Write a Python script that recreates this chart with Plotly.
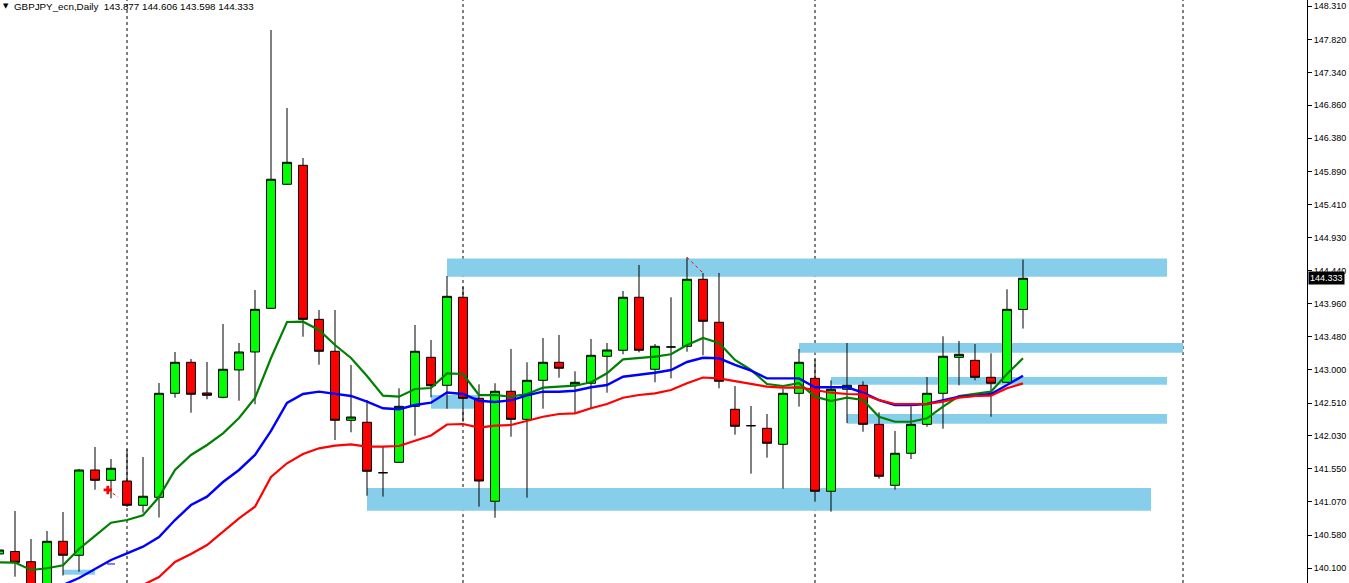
import plotly.graph_objects as go

# ---------------- data ----------------
bar_index = list(range(-1, 64))
opens = [140.305, 140.341, 140.192, 139.706, 140.490, 140.286, 141.532, 141.381, 141.371, 141.016,
         141.133, 142.652, 143.105, 142.657, 142.594, 142.993, 143.256, 143.894, 145.706, 145.983,
         143.733, 143.266, 142.258, 142.229, 141.492, 141.644, 142.462, 143.178, 142.769, 144.055,
         142.579, 141.075, 142.682, 142.272, 142.842, 143.105, 142.769, 142.799, 143.193, 143.281,
         144.055, 143.003, 143.329, 143.339, 144.318, 143.690, 142.419, 142.179, 142.141, 141.907,
         142.652, 142.871, 141.221, 142.711, 142.769, 142.199, 141.308, 141.776, 142.199, 142.652,
         143.178, 143.134, 142.886, 142.813, 143.877]
highs = [140.378, 140.933, 140.524, 140.641, 140.918, 141.547, 141.868, 141.692, 141.834, 141.722,
         142.803, 143.256, 143.153, 143.110, 143.665, 143.387, 144.161, 147.960, 146.820, 146.090,
         143.869, 143.869, 143.066, 142.554, 141.868, 142.725, 143.650, 143.431, 144.366, 144.205,
         142.784, 142.799, 143.300, 143.105, 143.460, 143.504, 142.974, 143.446, 143.387, 144.147,
         144.527, 143.373, 144.055, 144.639, 144.410, 144.410, 142.759, 142.467, 142.350, 142.715,
         143.300, 143.149, 142.842, 143.387, 142.828, 142.375, 142.102, 142.462, 142.890, 143.485,
         143.416, 143.373, 143.237, 144.172, 144.606]
lows = [140.275, 139.973, 139.633, 139.633, 139.991, 140.046, 141.244, 141.118, 140.991, 140.908,
        140.838, 142.588, 142.369, 142.565, 142.579, 142.544, 142.492, 143.884, 145.695, 143.479,
        143.070, 141.970, 142.083, 141.156, 141.142, 141.634, 142.033, 142.594, 142.427, 142.237,
        140.996, 140.835, 142.018, 141.127, 142.427, 142.880, 142.360, 142.433, 142.661, 143.222,
        143.251, 142.813, 142.871, 143.260, 143.207, 142.725, 142.048, 141.478, 141.712, 141.259,
        142.457, 141.069, 140.923, 142.218, 142.091, 141.405, 141.244, 141.692, 142.164, 142.135,
        142.769, 142.842, 142.310, 142.803, 143.598]
closes = [140.363, 140.183, 139.750, 140.490, 140.286, 141.532, 141.381, 141.557, 141.016, 141.148,
          142.652, 143.105, 142.638, 142.623, 143.003, 143.256, 143.879, 145.779, 146.027, 143.733,
          143.266, 142.258, 142.306, 141.513, 141.492, 142.462, 143.266, 142.763, 144.069, 142.579,
          141.371, 142.682, 142.272, 142.842, 143.105, 143.018, 142.813, 143.207, 143.285, 144.055,
          143.281, 143.339, 143.329, 144.318, 143.704, 142.828, 142.170, 142.179, 141.922, 142.652,
          143.105, 141.221, 142.711, 142.769, 142.199, 141.440, 141.776, 142.199, 142.652, 143.193,
          143.222, 142.886, 142.799, 143.879, 144.333]

# moving averages (fast = green, medium = blue, slow = red)
ma_fast_start = -1
ma_fast = [140.183, 140.180, 140.071, 140.096, 140.140, 140.378, 140.568, 140.762, 140.801, 140.870,
           141.137, 141.532, 141.751, 141.897, 142.068, 142.291, 142.584, 143.168, 143.694, 143.698,
           143.577, 143.358, 143.168, 142.905, 142.617, 142.603, 142.715, 142.730, 142.944, 142.934,
           142.627, 142.627, 142.603, 142.642, 142.734, 142.749, 142.763, 142.813, 142.944, 143.149,
           143.172, 143.187, 143.222, 143.358, 143.460, 143.387, 143.139, 142.993, 142.788, 142.759,
           142.799, 142.603, 142.540, 142.588, 142.554, 142.310, 142.237, 142.237, 142.287, 142.457,
           142.613, 142.642, 142.676, 142.934, 143.164]
ma_mid_start = 3
ma_mid = [139.852, 139.954, 140.085, 140.217, 140.315, 140.411, 140.553, 140.801, 141.020, 141.142,
          141.356, 141.532, 141.751, 142.102, 142.511, 142.642, 142.676, 142.642, 142.613, 142.530,
          142.433, 142.419, 142.481, 142.515, 142.664, 142.642, 142.544, 142.525, 142.550, 142.623,
          142.676, 142.676, 142.690, 142.740, 142.774, 142.895, 142.920, 142.953, 142.993, 143.110,
          143.172, 143.164, 143.066, 142.982, 142.871, 142.871, 142.871, 142.740, 142.740, 142.740,
          142.661, 142.554, 142.481, 142.481, 142.496, 142.554, 142.603, 142.617, 142.642, 142.774,
          142.909]
ma_slow_start = 8
ma_slow = [139.852, 139.969, 140.188, 140.305, 140.436, 140.626, 140.826, 140.996, 141.430, 141.630,
           141.766, 141.849, 141.887, 141.907, 141.872, 141.872, 141.882, 141.960, 142.036, 142.197,
           142.204, 142.150, 142.179, 142.189, 142.248, 142.310, 142.350, 142.360, 142.433, 142.496,
           142.588, 142.627, 142.652, 142.701, 142.798, 142.883, 142.871, 142.832, 142.798, 142.749,
           142.734, 142.740, 142.701, 142.661, 142.642, 142.638, 142.554, 142.496, 142.496, 142.496,
           142.530, 142.588, 142.613, 142.617, 142.725, 142.798]

# support / resistance zones: (from bar, to bar, low price, high price)
zone_x0 = [27, 49, 51, 52, 22, 26, 3]
zone_x1 = [72, 73, 72, 72, 71, 29, 5]
zone_lo = [144.356, 143.245, 142.778, 142.208, 140.937, 142.427, 140.002]
zone_hi = [144.622, 143.387, 142.890, 142.350, 141.269, 142.627, 140.075]

# period separators (bar index)
separators = [7, 28, 50, 73]

# small objects on chart
trend_bars = [42, 43]
trade_x = [5.8, 6.45]
trade_y = [141.240, 141.137]
order_x = [5.75, 6.25]
order_y = [140.159, 140.159]

tick_vals = [148.310, 147.820, 147.340, 146.860, 146.380, 145.890, 145.410, 144.930, 144.440,
             143.960, 143.480, 143.000, 142.510, 142.030, 141.550, 141.070, 140.580, 140.100]
tick_text = ["%.3f" % v for v in tick_vals]

symbol = "GBPJPY_ecn,Daily"
y_min, y_max = 139.881, 148.398
x_min, x_max = -0.9375, 80.75

FONT = "Liberation Sans, Arial, sans-serif"

fig = go.Figure()

fig.add_trace(go.Scatter(x=list(range(ma_fast_start, ma_fast_start + len(ma_fast))), y=ma_fast,
                         mode="lines", line=dict(color="#008000", width=2.2), hoverinfo="skip"))
fig.add_trace(go.Scatter(x=list(range(ma_mid_start, ma_mid_start + len(ma_mid))), y=ma_mid,
                         mode="lines", line=dict(color="#0000FF", width=2.4), hoverinfo="skip"))
fig.add_trace(go.Scatter(x=list(range(ma_slow_start, ma_slow_start + len(ma_slow))), y=ma_slow,
                         mode="lines", line=dict(color="#FF0000", width=2.2), hoverinfo="skip"))

# small trade marks
fig.add_trace(go.Scatter(x=trade_x, y=trade_y, mode="lines",
                         line=dict(color="#FF0000", width=1, dash="dot"), hoverinfo="skip"))
fig.add_trace(go.Scatter(x=trade_x[:1], y=trade_y[:1], mode="markers",
                         marker=dict(symbol="cross", size=7, color="#FF0000"), hoverinfo="skip"))
fig.add_trace(go.Scatter(x=order_x, y=order_y, mode="lines",
                         line=dict(color="#0000FF", width=1), hoverinfo="skip"))
fig.add_trace(go.Scatter(x=trend_bars, y=[highs[b + 1] for b in trend_bars], mode="lines",
                         line=dict(color="#FF0000", width=1, dash="dot"), hoverinfo="skip"))

fig.add_trace(go.Candlestick(
    x=bar_index, open=opens, high=highs, low=lows, close=closes,
    increasing=dict(line=dict(color="black", width=1), fillcolor="#00FF00"),
    decreasing=dict(line=dict(color="black", width=1), fillcolor="#FF0000"),
    whiskerwidth=0, hoverinfo="skip"))

shapes = []
for x0, x1, lo, hi in zip(zone_x0, zone_x1, zone_lo, zone_hi):
    shapes.append(dict(type="rect", xref="x", yref="y", x0=x0, x1=x1, y0=lo, y1=hi,
                       fillcolor="#87CEEB", line=dict(width=0), layer="below"))
for s in separators:
    shapes.append(dict(type="line", xref="x", yref="paper", x0=s, x1=s, y0=0, y1=1,
                       line=dict(color="black", width=1, dash="3px,3px"), layer="below"))

annotations = [
    dict(xref="paper", yref="paper", x=0, y=1, xanchor="left", yanchor="top", xshift=1, yshift=0,
         text="\u25BC", showarrow=False, font=dict(family="DejaVu Sans", size=7, color="black")),
    dict(xref="paper", yref="paper", x=0, y=1, xanchor="left", yanchor="top", xshift=12, yshift=1,
         text="%s\u00a0\u00a0%.3f %.3f %.3f %.3f" % (symbol, opens[-1], highs[-1], lows[-1], closes[-1]),
         showarrow=False, font=dict(family=FONT, size=9.8, color="black")),
    dict(xref="paper", yref="y", x=1, y=closes[-1], xanchor="left", yanchor="middle", xshift=1,
         text="%.3f" % closes[-1], showarrow=False, bgcolor="black", borderpad=1,
         font=dict(family=FONT, size=9, color="white")),
]

fig.update_layout(
    width=1349, height=583,
    margin=dict(l=0, r=42, t=0, b=0),
    paper_bgcolor="white", plot_bgcolor="white",
    showlegend=False, boxgap=0.2,
    shapes=shapes, annotations=annotations,
    xaxis=dict(range=[x_min, x_max], visible=False, rangeslider=dict(visible=False), fixedrange=True),
    yaxis=dict(range=[y_min, y_max], side="right", tickmode="array", tickvals=tick_vals, ticktext=tick_text,
               ticks="outside", ticklen=4, tickcolor="black", showline=True, linecolor="black", linewidth=1,
               showgrid=False, zeroline=False, fixedrange=True,
               tickfont=dict(family=FONT, size=9, color="black")),
)

fig.write_html("out.html", config={"displayModeBar": False, "staticPlot": True})

# remove the browser's default page margin so the figure sits at the window origin
with open("out.html", "r", encoding="utf-8") as fh:
    page = fh.read()
page = page.replace("<head>", "<head><style>html,body{margin:0;padding:0;overflow:hidden;}</style>", 1)
with open("out.html", "w", encoding="utf-8") as fh:
    fh.write(page)
